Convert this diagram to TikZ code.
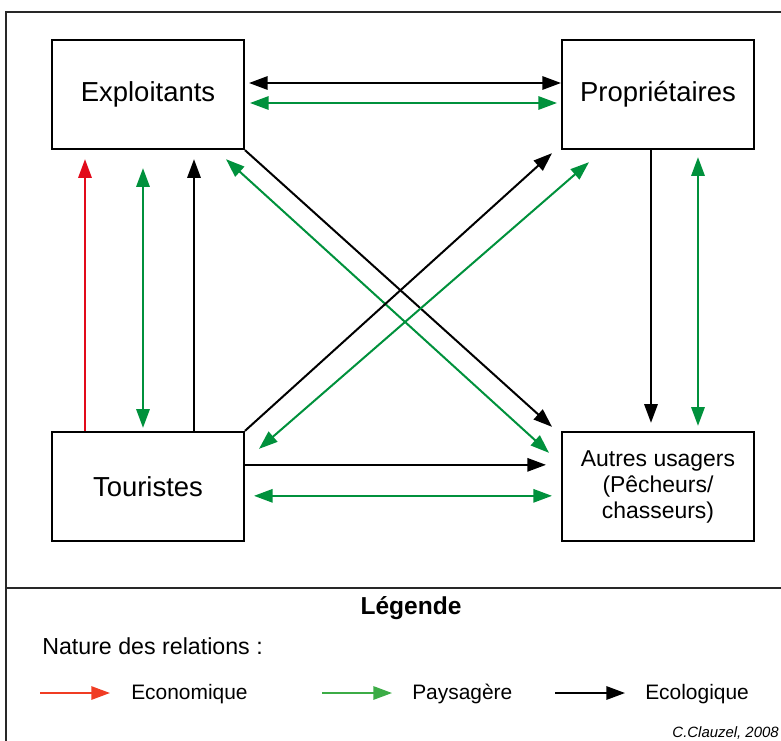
\documentclass[tikz,border=0pt]{standalone}
\usepackage{fontspec}
\setmainfont{Liberation Sans}
\usetikzlibrary{arrows.meta, positioning, calc}
\definecolor{ecored}{RGB}{226,10,26}
\definecolor{paygreen}{RGB}{0,145,60}
\definecolor{legred}{RGB}{240,60,35}
\definecolor{leggreen}{RGB}{60,172,70}
\definecolor{framegray}{RGB}{40,40,40}
\tikzset{
  bigtri/.tip={Triangle[length=14pt, width=10pt]},
  actor/.style={rectangle, draw=black, fill=white, minimum width=144pt,
    minimum height=82pt, line width=1.5pt, align=center,
    font=\fontsize{20.6}{24}\selectfont},
  smallactor/.style={actor, font=\fontsize{17.2}{19.5}\selectfont},
  econ/.style={-bigtri, line width=1.5pt, color=ecored},
  pays/.style={bigtri-bigtri, line width=1.5pt, color=paygreen},
  ecol/.style={-bigtri, line width=1.5pt, color=black},
  ecolboth/.style={bigtri-bigtri, line width=1.5pt, color=black},
  legtext/.style={anchor=west, inner sep=0pt, font=\fontsize{15.7}{18}\selectfont},
  legarrow/.style={-bigtri, line width=1.5pt}
}

\begin{document}
\begin{tikzpicture}[x=0.75pt, y=-0.75pt]
  \useasboundingbox (0,0) rectangle (781,740);
  \clip (0,0) rectangle (781,740);
  \draw[line width=1.5pt, color=framegray] (6,12) rectangle (800,760);
  \draw[line width=1.5pt, color=framegray] (6,588) -- (800,588);

  \node [actor] (expl) at (148,94.5) {Exploitants};
  \node [actor, right=237pt of expl] (prop) {Propriétaires};
  \node [actor, below=210.5pt of expl] (tour) {Touristes};
  \node [smallactor, below=210.5pt of prop] (autres) {Autres usagers\\(Pêcheurs/\\chasseurs)};

  \draw [ecolboth] ($(expl.east)+(4,-11.5)$) -- ($(prop.west)+(0,-11.5)$);
  \draw [pays] ($(expl.east)+(5,8.5)$) -- ($(prop.west)+(-4,8.5)$);

  \draw [econ] ($(tour.north west)+(34,0)$) -- ($(expl.south west)+(34,9)$);
  \draw [pays] ($(expl.south west)+(92,18)$) -- ($(tour.north west)+(92,-3)$);
  \draw [ecol] ($(tour.north west)+(143,0)$) -- ($(expl.south west)+(143,9)$);

  \draw [ecol] ($(prop.south west)+(90,0)$) -- ($(autres.north west)+(90,-8)$);
  \draw [pays] ($(prop.south west)+(137,7)$) -- ($(autres.north west)+(137,-5)$);

  \draw [ecol] ($(tour.north east)+(0,34)$) -- ($(autres.north west)+(-15,34)$);
  \draw [pays] ($(tour.north east)+(9,65)$) -- ($(autres.north west)+(-9,65)$);

  \draw [ecol] (expl.south east) -- ($(autres.north west)+(-9,-4)$);
  \draw [pays] ($(expl.south east)+(-19,9)$) -- ($(autres.north west)+(-12,22)$);
  \draw [ecol] (tour.north east) -- ($(prop.south west)+(-9,3)$);
  \draw [pays] ($(tour.north east)+(14,18)$) -- ($(prop.south west)+(28,12)$);

  \node [font=\fontsize{18.4}{22}\selectfont\bfseries] (leg) at (411,608) {Légende};
  \node [legtext, font=\fontsize{17.4}{20}\selectfont] (nature) at (42,646) {Nature des relations :};

  \node [legtext] (eco) at (131,694) {Economique};
  \node [legtext] (pay) at (412,694) {Paysagère};
  \node [legtext] (ecl) at (645,694) {Ecologique};
  \draw [legarrow, color=legred] ($(eco.west)+(-91,-1)$) -- ($(eco.west)+(-21,-1)$);
  \draw [legarrow, color=leggreen] ($(pay.west)+(-90,-1)$) -- ($(pay.west)+(-20,-1)$);
  \draw [legarrow, color=black] ($(ecl.west)+(-90,-1)$) -- ($(ecl.west)+(-20,-1)$);

  \node [anchor=east, inner sep=0pt, font=\fontsize{11.2}{13}\selectfont\itshape] (auteur) at (779,733) {C.Clauzel, 2008};
\end{tikzpicture}
\end{document}
